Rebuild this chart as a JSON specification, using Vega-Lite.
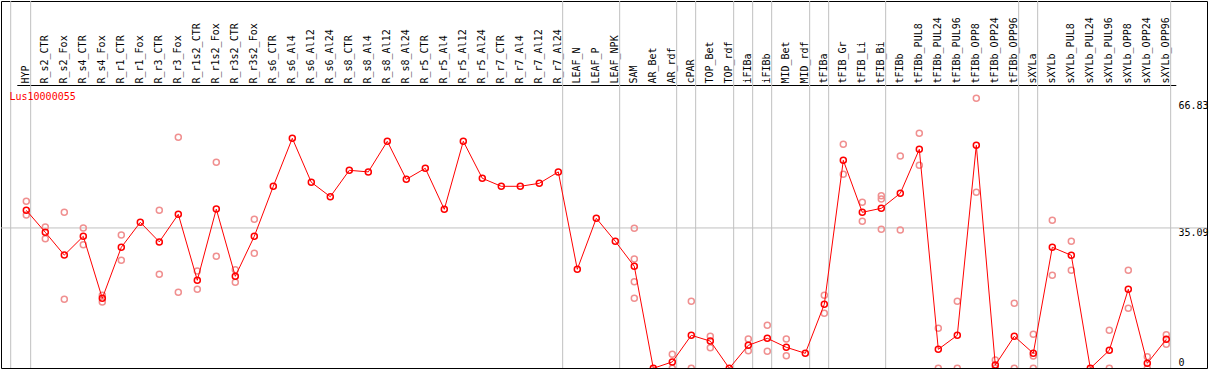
{
  "$schema": "https://vega.github.io/schema/vega-lite/v6.json",
  "width": 1206,
  "height": 367,
  "autosize": {"type": "none"},
  "padding": {"left": 1, "top": 1, "right": 2, "bottom": 2},
  "background": "#ffffff",
  "view": {"stroke": "#000000", "strokeWidth": 1},
  "config": {"font": "DejaVu Sans Mono"},
  "title": {"text": "Lus10000055", "color": "#ff0000", "font": "DejaVu Sans Mono", "fontSize": 10, "fontWeight": "normal", "anchor": "start", "frame": "group", "orient": "top", "offset": 0, "dx": 8.5, "dy": 109, "baseline": "alphabetic"},
  "resolve": {"axis": {"x": "independent", "y": "independent"}},
  "datasets": {
    "means": [
      {"cat": "HYP", "v": 39.5}, {"cat": "R_s2_CTR", "v": 34.0}, {"cat": "R_s2_Fox", "v": 28.3}, {"cat": "R_s4_CTR", "v": 33.0}, {"cat": "R_s4_Fox", "v": 17.5},
      {"cat": "R_r1_CTR", "v": 30.25}, {"cat": "R_r1_Fox", "v": 36.5}, {"cat": "R_r3_CTR", "v": 31.6}, {"cat": "R_r3_Fox", "v": 38.5}, {"cat": "R_r1s2_CTR", "v": 22.0},
      {"cat": "R_r1s2_Fox", "v": 39.8}, {"cat": "R_r3s2_CTR", "v": 23.0}, {"cat": "R_r3s2_Fox", "v": 33.0}, {"cat": "R_s6_CTR", "v": 45.5}, {"cat": "R_s6_Al4", "v": 57.5},
      {"cat": "R_s6_Al12", "v": 46.5}, {"cat": "R_s6_Al24", "v": 42.9}, {"cat": "R_s8_CTR", "v": 49.5}, {"cat": "R_s8_Al4", "v": 49.1}, {"cat": "R_s8_Al12", "v": 56.75},
      {"cat": "R_s8_Al24", "v": 47.25}, {"cat": "R_r5_CTR", "v": 50.0}, {"cat": "R_r5_Al4", "v": 39.75}, {"cat": "R_r5_Al12", "v": 56.75}, {"cat": "R_r5_Al24", "v": 47.5},
      {"cat": "R_r7_CTR", "v": 45.5}, {"cat": "R_r7_Al4", "v": 45.5}, {"cat": "R_r7_Al12", "v": 46.25}, {"cat": "R_r7_Al24", "v": 49.1}, {"cat": "LEAF_N", "v": 24.75},
      {"cat": "LEAF_P", "v": 37.5}, {"cat": "LEAF_NPK", "v": 31.75}, {"cat": "SAM", "v": 25.5}, {"cat": "AR_Bet", "v": 0}, {"cat": "AR_rdf", "v": 1.6},
      {"cat": "cPAR", "v": 8.25}, {"cat": "TOP_Bet", "v": 6.8}, {"cat": "TOP_rdf", "v": 0}, {"cat": "iFIBa", "v": 5.75}, {"cat": "iFIBb", "v": 7.5},
      {"cat": "MID_Bet", "v": 5.25}, {"cat": "MID_rdf", "v": 3.75}, {"cat": "tFIBa", "v": 16.0}, {"cat": "tFIB_Gr", "v": 52.0}, {"cat": "tFIB_Li", "v": 39.0},
      {"cat": "tFIB_Bi", "v": 40.0}, {"cat": "tFIBb", "v": 43.75}, {"cat": "tFIBb_PUL8", "v": 54.75}, {"cat": "tFIBb_PUL24", "v": 4.75}, {"cat": "tFIBb_PUL96", "v": 8.25},
      {"cat": "tFIBb_OPP8", "v": 55.75}, {"cat": "tFIBb_OPP24", "v": 0.8}, {"cat": "tFIBb_OPP96", "v": 8.0}, {"cat": "sXYLa", "v": 3.75}, {"cat": "sXYLb", "v": 30.25},
      {"cat": "sXYLb_PUL8", "v": 28.25}, {"cat": "sXYLb_PUL24", "v": 0}, {"cat": "sXYLb_PUL96", "v": 4.5}, {"cat": "sXYLb_OPP8", "v": 19.75}, {"cat": "sXYLb_OPP24", "v": 1.25},
      {"cat": "sXYLb_OPP96", "v": 7.25}
    ],
    "reps": [
      {"cat": "HYP", "v": 41.75}, {"cat": "HYP", "v": 38.3},
      {"cat": "R_s2_CTR", "v": 35.3}, {"cat": "R_s2_CTR", "v": 32.4},
      {"cat": "R_s2_Fox", "v": 39.0}, {"cat": "R_s2_Fox", "v": 17.25},
      {"cat": "R_s4_CTR", "v": 35.1}, {"cat": "R_s4_CTR", "v": 30.9},
      {"cat": "R_s4_Fox", "v": 18.25}, {"cat": "R_s4_Fox", "v": 16.6},
      {"cat": "R_r1_CTR", "v": 33.3}, {"cat": "R_r1_CTR", "v": 27.0},
      {"cat": "R_r3_CTR", "v": 39.5}, {"cat": "R_r3_CTR", "v": 23.5},
      {"cat": "R_r3_Fox", "v": 57.75}, {"cat": "R_r3_Fox", "v": 19.0},
      {"cat": "R_r1s2_CTR", "v": 24.3}, {"cat": "R_r1s2_CTR", "v": 19.75},
      {"cat": "R_r1s2_Fox", "v": 51.5}, {"cat": "R_r1s2_Fox", "v": 28.0},
      {"cat": "R_r3s2_CTR", "v": 24.65}, {"cat": "R_r3s2_CTR", "v": 21.5},
      {"cat": "R_r3s2_Fox", "v": 37.25}, {"cat": "R_r3s2_Fox", "v": 28.75},
      {"cat": "SAM", "v": 35.0}, {"cat": "SAM", "v": 27.3}, {"cat": "SAM", "v": 21.65}, {"cat": "SAM", "v": 17.5},
      {"cat": "AR_rdf", "v": 3.5}, {"cat": "AR_rdf", "v": 0},
      {"cat": "cPAR", "v": 16.75}, {"cat": "cPAR", "v": 0},
      {"cat": "TOP_Bet", "v": 8.0}, {"cat": "TOP_Bet", "v": 5.15},
      {"cat": "iFIBa", "v": 7.3}, {"cat": "iFIBa", "v": 4.4},
      {"cat": "iFIBb", "v": 10.75}, {"cat": "iFIBb", "v": 4.25},
      {"cat": "MID_Bet", "v": 7.3}, {"cat": "MID_Bet", "v": 3.15},
      {"cat": "tFIBa", "v": 18.25}, {"cat": "tFIBa", "v": 13.75},
      {"cat": "tFIB_Gr", "v": 56.0}, {"cat": "tFIB_Gr", "v": 48.5},
      {"cat": "tFIB_Li", "v": 41.5}, {"cat": "tFIB_Li", "v": 36.75},
      {"cat": "tFIB_Bi", "v": 43.15}, {"cat": "tFIB_Bi", "v": 42.3}, {"cat": "tFIB_Bi", "v": 34.75},
      {"cat": "tFIBb", "v": 53.1}, {"cat": "tFIBb", "v": 34.6},
      {"cat": "tFIBb_PUL8", "v": 58.75}, {"cat": "tFIBb_PUL8", "v": 50.75},
      {"cat": "tFIBb_PUL24", "v": 10.0}, {"cat": "tFIBb_PUL24", "v": 0},
      {"cat": "tFIBb_PUL96", "v": 16.75}, {"cat": "tFIBb_PUL96", "v": 0},
      {"cat": "tFIBb_OPP8", "v": 67.5}, {"cat": "tFIBb_OPP8", "v": 44.0},
      {"cat": "tFIBb_OPP24", "v": 2.1}, {"cat": "tFIBb_OPP24", "v": 0},
      {"cat": "tFIBb_OPP96", "v": 16.25}, {"cat": "tFIBb_OPP96", "v": 0},
      {"cat": "sXYLa", "v": 8.5}, {"cat": "sXYLa", "v": 3.1}, {"cat": "sXYLa", "v": 0},
      {"cat": "sXYLb", "v": 37.0}, {"cat": "sXYLb", "v": 23.25},
      {"cat": "sXYLb_PUL8", "v": 31.75}, {"cat": "sXYLb_PUL8", "v": 24.5},
      {"cat": "sXYLb_PUL96", "v": 9.5}, {"cat": "sXYLb_PUL96", "v": 0},
      {"cat": "sXYLb_OPP8", "v": 24.5}, {"cat": "sXYLb_OPP8", "v": 15.0},
      {"cat": "sXYLb_OPP24", "v": 2.9}, {"cat": "sXYLb_OPP24", "v": 0},
      {"cat": "sXYLb_OPP96", "v": 8.4}, {"cat": "sXYLb_OPP96", "v": 6.0}
    ],
    "groupEnds": [
      {"sep": "HYP"}, {"sep": "R_r7_Al24"}, {"sep": "LEAF_NPK"}, {"sep": "AR_rdf"}, {"sep": "cPAR"}, {"sep": "TOP_rdf"}, {"sep": "iFIBa"},
      {"sep": "iFIBb"}, {"sep": "MID_rdf"}, {"sep": "tFIBa"}, {"sep": "tFIB_Bi"}, {"sep": "tFIBb_OPP96"}, {"sep": "sXYLa"}, {"sep": "sXYLb_OPP96"}
    ],
    "groupStarts": [{"sep": "HYP"}],
    "refs": [{"ref": 35.09}]
  },
  "layer": [
    {
      "data": {"name": "groupEnds"},
      "mark": {"type": "rule", "color": "#c0c0c0", "strokeWidth": 1},
      "encoding": {
        "x": {"field": "sep", "type": "nominal", "bandPosition": 0.73, "axis": null,
              "scale": {"type": "band", "paddingInner": 0, "paddingOuter": 0, "range": [15.8, 1174.8],
                        "domain": ["HYP","R_s2_CTR","R_s2_Fox","R_s4_CTR","R_s4_Fox","R_r1_CTR","R_r1_Fox","R_r3_CTR","R_r3_Fox","R_r1s2_CTR","R_r1s2_Fox","R_r3s2_CTR","R_r3s2_Fox","R_s6_CTR","R_s6_Al4","R_s6_Al12","R_s6_Al24","R_s8_CTR","R_s8_Al4","R_s8_Al12","R_s8_Al24","R_r5_CTR","R_r5_Al4","R_r5_Al12","R_r5_Al24","R_r7_CTR","R_r7_Al4","R_r7_Al12","R_r7_Al24","LEAF_N","LEAF_P","LEAF_NPK","SAM","AR_Bet","AR_rdf","cPAR","TOP_Bet","TOP_rdf","iFIBa","iFIBb","MID_Bet","MID_rdf","tFIBa","tFIB_Gr","tFIB_Li","tFIB_Bi","tFIBb","tFIBb_PUL8","tFIBb_PUL24","tFIBb_PUL96","tFIBb_OPP8","tFIBb_OPP24","tFIBb_OPP96","sXYLa","sXYLb","sXYLb_PUL8","sXYLb_PUL24","sXYLb_PUL96","sXYLb_OPP8","sXYLb_OPP24","sXYLb_OPP96"]}}
      }
    },
    {
      "data": {"name": "groupStarts"},
      "mark": {"type": "rule", "color": "#c0c0c0", "strokeWidth": 1, "xOffset": -15.6},
      "encoding": {
        "x": {"field": "sep", "type": "nominal", "axis": null}
      }
    },
    {
      "data": {"name": "refs"},
      "mark": {"type": "rule", "color": "#c0c0c0", "strokeWidth": 1},
      "encoding": {
        "y": {"field": "ref", "type": "quantitative", "axis": null}
      }
    },
    {
      "data": {"name": "reps"},
      "mark": {"type": "point", "shape": "circle", "filled": false, "stroke": "#f09090", "strokeWidth": 1.5, "size": 36, "opacity": 1, "clip": true},
      "encoding": {
        "x": {"field": "cat", "type": "nominal", "axis": null},
        "y": {"field": "v", "type": "quantitative", "axis": null}
      }
    },
    {
      "data": {"name": "means"},
      "mark": {"type": "line", "color": "#ff0000", "strokeWidth": 1, "clip": true},
      "encoding": {
        "x": {"field": "cat", "type": "nominal",
              "axis": {"orient": "top", "offset": -84, "labelAngle": -90, "labelFont": "DejaVu Sans Mono", "labelFontSize": 10, "labelColor": "#000000",
                       "ticks": false, "domain": true, "domainColor": "#000000", "domainWidth": 1, "grid": false, "title": null, "labelPadding": 2,
                       "labelBound": false, "labelOverlap": false, "labelLimit": 0}},
        "y": {"field": "v", "type": "quantitative",
              "scale": {"domain": [0, 70.8], "range": [367.3, 84.1], "nice": false, "zero": false},
              "axis": {"orient": "right", "values": [0, 35.09, 66.83], "offset": -29, "ticks": false, "domain": false, "grid": false,
                       "labelPadding": 0, "labelAlign": "left",
                       "labelBaseline": {"condition": {"test": "datum.value === 0", "value": "bottom"}, "value": "top"},
                       "labelOffset": {"condition": {"test": "datum.value === 0", "value": -1}, "value": 0},
                       "labelFlush": false,
                       "labelFont": "DejaVu Sans Mono", "labelFontSize": 10, "labelColor": "#000000", "title": null,
                       "labelExpr": "datum.value === 0 ? '0' : format(datum.value, '.2f')"}},
        "order": {"value": null}
      }
    },
    {
      "data": {"name": "means"},
      "mark": {"type": "point", "shape": "circle", "filled": false, "stroke": "#ff0000", "strokeWidth": 1.5, "size": 36, "opacity": 1, "clip": true},
      "encoding": {
        "x": {"field": "cat", "type": "nominal", "axis": null},
        "y": {"field": "v", "type": "quantitative", "axis": null}
      }
    }
  ]
}
